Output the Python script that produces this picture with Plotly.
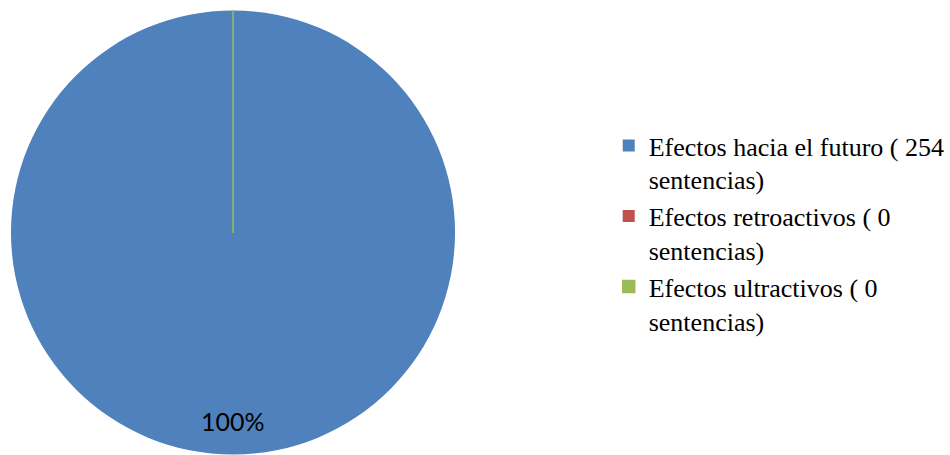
import plotly.graph_objects as go

labels = ["Efectos hacia el futuro ( 254<br>sentencias)",
          "Efectos retroactivos ( 0<br>sentencias)",
          "Efectos ultractivos ( 0<br>sentencias)"]
values = [254, 0, 0]
colors = ["#4F81BD", "#C0504D", "#9BBB59"]

W, H = 950, 455
total = sum(values)

fig = go.Figure(go.Pie(
    labels=labels,
    values=values,
    sort=False,
    direction="clockwise",
    rotation=0,
    marker=dict(colors=colors, line=dict(color=colors, width=[0, 0, 1.5])),
    textinfo="none",
    hoverinfo="label+percent",
    domain=dict(x=[11 / W, 456 / W], y=[0, 1 - 10 / H]),
))

pct_text = f"{round(100 * values[0] / total)}%"
fig.add_annotation(
    x=233 / W, y=1 - 421 / H, xref="paper", yref="paper",
    xanchor="center", yanchor="middle",
    text=pct_text, showarrow=False,
    font=dict(family="Lato", size=25, color="#000000"),
)

fig.update_layout(
    width=W, height=H,
    margin=dict(l=0, r=0, t=0, b=0),
    paper_bgcolor="white",
    plot_bgcolor="white",
    showlegend=True,
    legend=dict(
        x=610 / W, y=1 - 122 / H, xanchor="left", yanchor="top",
        valign="top",
        font=dict(family="Liberation Serif, Times New Roman, serif", size=26, color="#000000"),
        bgcolor="rgba(0,0,0,0)",
    ),
)

fig.write_html("out.html")
